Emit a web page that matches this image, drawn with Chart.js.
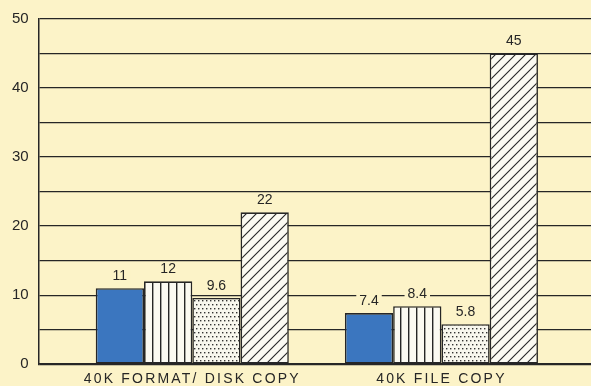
<!DOCTYPE html>
<html>
<head>
<meta charset="utf-8">
<script src="https://cdn.jsdelivr.net/npm/chart.js@4/dist/chart.umd.min.js"></script>
<style>
  html, body { margin: 0; padding: 0; background: #fcf3c8; }
  #wrap { width: 591px; height: 386px; }
</style>
</head>
<body>
<div id="wrap"><canvas id="c" width="591" height="386"></canvas></div>
<script>
// Benchmark categories and timings (seconds)
const categories = ['40K FORMAT/ DISK COPY', '40K FILE COPY'];
const solidVals   = [11, 7.4];
const stripedVals = [12, 8.4];
const dottedVals  = [9.6, 5.8];
const hatchedVals = [22, 45];
const valueLabels = [
  ['11', '7.4'],
  ['12', '8.4'],
  ['9.6', '5.8'],
  ['22', '45']
];
const yTickLabels = [0, 10, 20, 30, 40, 50];

const BG = '#fcf3c8';
const INK = '#262626';

function makePattern(w, h, paint) {
  const c = document.createElement('canvas');
  c.width = w; c.height = h;
  const g = c.getContext('2d');
  paint(g, w, h);
  return g.createPattern(c, 'repeat');
}

const stripes = makePattern(8, 8, (g, w, h) => {
  g.fillStyle = '#fbfaf2'; g.fillRect(0, 0, w, h);
  g.fillStyle = INK; g.fillRect(0, 0, 1.4, h);
});

const dots = makePattern(4, 8, (g, w, h) => {
  g.fillStyle = '#f8f7ee'; g.fillRect(0, 0, w, h);
  g.fillStyle = '#333';
  g.fillRect(0, 0, 1.4, 1.4);
  g.fillRect(2, 4, 1.4, 1.4);
});

const hatch = makePattern(10, 10, (g, w, h) => {
  g.fillStyle = '#fbfaf2'; g.fillRect(0, 0, w, h);
  g.strokeStyle = INK; g.lineWidth = 1.1;
  g.beginPath();
  g.moveTo(-1, h + 1); g.lineTo(w + 1, -1);
  g.moveTo(-1, 1); g.lineTo(1, -1);
  g.moveTo(w - 1, h + 1); g.lineTo(w + 1, h - 1);
  g.stroke();
});

const toPoints = vals => vals.map((v, i) => ({ x: i, y: v }));

// Value labels above bars, on a background patch that breaks the grid lines
const valueLabelPlugin = {
  id: 'valueLabels',
  afterDatasetsDraw(chart) {
    const ctx = chart.ctx;
    ctx.save();
    ctx.font = '14px "Liberation Sans", Arial, sans-serif';
    ctx.textAlign = 'center';
    ctx.textBaseline = 'middle';
    chart.data.datasets.forEach((ds, di) => {
      const meta = chart.getDatasetMeta(di);
      meta.data.forEach((bar, i) => {
        const txt = valueLabels[di][i];
        const cy = bar.y - 12;
        const w = ctx.measureText(txt).width;
        ctx.fillStyle = BG;
        ctx.fillRect(bar.x - w / 2 - 3, cy - 7, w + 6, 14);
        ctx.fillStyle = INK;
        ctx.fillText(txt, bar.x, cy);
      });
    });
    ctx.restore();
    // category labels are spaced out
    ctx.letterSpacing = '2.2px';
  },
  afterDraw(chart) {
    chart.ctx.letterSpacing = '0px';
  }
};

const bgPlugin = {
  id: 'bg',
  beforeDraw(chart) {
    const ctx = chart.ctx;
    ctx.save();
    ctx.fillStyle = BG;
    ctx.fillRect(0, 0, chart.width, chart.height);
    ctx.restore();
  }
};

const barStyle = { borderColor: INK, borderWidth: 1.6, borderSkipped: false };

new Chart(document.getElementById('c'), {
  type: 'bar',
  data: {
    datasets: [
      Object.assign({ label: 'A', data: toPoints(solidVals), backgroundColor: '#3b76bf' }, barStyle),
      Object.assign({ label: 'B', data: toPoints(stripedVals), backgroundColor: stripes }, barStyle),
      Object.assign({ label: 'C', data: toPoints(dottedVals), backgroundColor: dots }, barStyle),
      Object.assign({ label: 'D', data: toPoints(hatchedVals), backgroundColor: hatch }, barStyle)
    ]
  },
  options: {
    responsive: false,
    animation: false,
    devicePixelRatio: 1,
    categoryPercentage: 0.775,
    barPercentage: 1.0,
    layout: { padding: { top: 7, right: 0, left: 2, bottom: -9 } },
    plugins: { legend: { display: false }, tooltip: { enabled: false } },
    scales: {
      x: {
        type: 'linear',
        offset: false,
        min: -0.6165,
        max: 1.6004,
        afterBuildTicks(scale) {
          scale.ticks = categories.map((_, i) => ({ value: i }));
        },
        grid: { display: false, drawTicks: false },
        border: { display: true, color: INK, width: 1.5 },
        ticks: {
          z: 1,
          padding: 7,
          autoSkip: false,
          maxRotation: 0,
          color: INK,
          font: { family: '"Liberation Sans", Arial, sans-serif', size: 14 },
          callback: v => categories[v]
        }
      },
      y: {
        min: 0,
        max: 50,
        grid: { color: INK, lineWidth: 1.3, drawTicks: false },
        border: { display: true, color: INK, width: 1.5 },
        ticks: {
          stepSize: 5,
          padding: 10,
          color: INK,
          font: { family: '"Liberation Sans", Arial, sans-serif', size: 15 },
          callback: v => (yTickLabels.includes(v) ? String(v) : '')
        }
      }
    }
  },
  plugins: [bgPlugin, valueLabelPlugin]
});
</script>
</body>
</html>
